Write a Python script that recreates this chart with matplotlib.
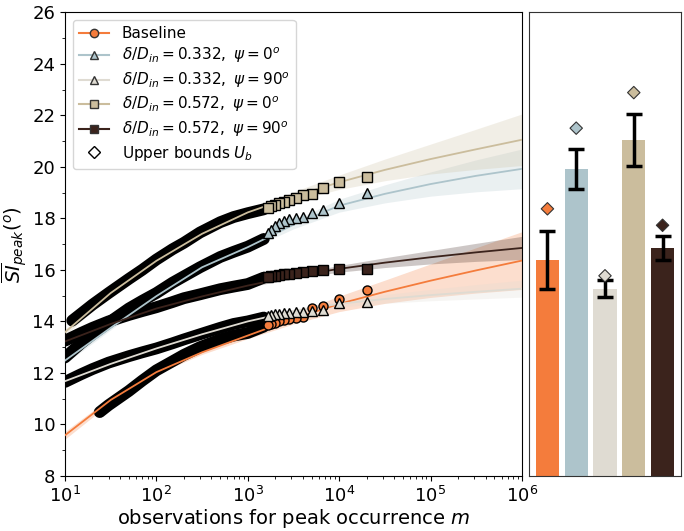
import matplotlib.pyplot as plt
from matplotlib.lines import Line2D
from matplotlib.ticker import MultipleLocator
import numpy as np

# --- values ---

# smooth fitted curves, sampled every half decade from 10 to 1e6
fit_m = [10, 31.6, 100, 316, 1000, 3162, 10000, 31623, 100000, 316228, 1000000]
baseline_fit = [9.58, 10.95, 12.03, 12.8, 13.45, 14.1, 14.68, 15.15, 15.58, 15.98, 16.36]
d332_p0_fit = [12.48, 13.75, 14.98, 16.1, 16.88, 17.75, 18.49, 18.95, 19.33, 19.65, 19.92]
d332_p90_fit = [11.68, 12.35, 12.95, 13.5, 14.0, 14.4, 14.68, 14.87, 15.02, 15.15, 15.27]
d572_p0_fit = [13.58, 15.1, 16.35, 17.4, 18.23, 18.85, 19.4, 19.88, 20.3, 20.68, 21.05]
d572_p90_fit = [13.22, 13.9, 14.5, 14.97, 15.39, 15.75, 16.04, 16.28, 16.49, 16.68, 16.85]

# half width of the shaded band around each fit
baseline_band = [0.15, 0.1, 0.07, 0.08, 0.12, 0.2, 0.3, 0.45, 0.65, 0.88, 1.12]
d332_p0_band = [0.12, 0.08, 0.06, 0.07, 0.1, 0.16, 0.25, 0.35, 0.47, 0.62, 0.77]
d332_p90_band = [0.08, 0.05, 0.04, 0.04, 0.06, 0.08, 0.12, 0.17, 0.22, 0.28, 0.33]
d572_p0_band = [0.12, 0.08, 0.06, 0.07, 0.1, 0.18, 0.28, 0.42, 0.58, 0.78, 1.0]
d572_p90_band = [0.08, 0.05, 0.04, 0.05, 0.06, 0.09, 0.13, 0.19, 0.26, 0.35, 0.45]

# observed points, dense part (marker edges merge into a black band)
baseline_dense_m = [24, 30, 50, 70, 100, 150, 200, 300, 500, 700, 1000, 1500]
baseline_dense = [10.48, 10.75, 11.3, 11.7, 12.1, 12.45, 12.7, 13.0, 13.3, 13.45, 13.55, 13.8]
d332_p0_dense_m = [10, 15, 20, 30, 50, 70, 100, 150, 200, 300, 500, 700, 1000, 1500]
d332_p0_dense = [12.6, 13.15, 13.5, 13.95, 14.5, 14.8, 15.1, 15.5, 15.75, 16.1, 16.5, 16.7, 16.9, 17.2]
d332_p90_dense_m = [10, 15, 20, 30, 50, 70, 100, 150, 200, 300, 500, 700, 1000, 1500]
d332_p90_dense = [11.65, 11.95, 12.15, 12.4, 12.65, 12.8, 12.95, 13.15, 13.3, 13.5, 13.75, 13.9, 14.0, 14.15]
d572_p0_dense_m = [12, 15, 20, 30, 50, 70, 100, 150, 200, 300, 500, 700, 1000, 1500]
d572_p0_dense = [14.03, 14.3, 14.65, 15.1, 15.65, 16.0, 16.4, 16.8, 17.05, 17.45, 17.85, 18.05, 18.2, 18.35]
d572_p90_dense_m = [10, 15, 20, 30, 50, 70, 100, 150, 200, 300, 500, 700, 1000, 1500]
d572_p90_dense = [13.25, 13.55, 13.75, 14.0, 14.25, 14.4, 14.55, 14.75, 14.9, 15.05, 15.25, 15.35, 15.45, 15.7]

# observed points, sparse part (individual markers)
sparse_m = [20000, 10000, 6667, 5000, 4000, 3333, 2857, 2500, 2222, 2000, 1818, 1667]
baseline_sparse = [15.2, 14.85, 14.58, 14.52, 14.19, 14.15, 14.1, 14.05, 14.0, 13.95, 13.9, 13.85]
d332_p0_sparse = [18.97, 18.58, 18.32, 18.2, 18.05, 18.0, 17.97, 17.9, 17.8, 17.7, 17.55, 17.45]
d332_p90_sparse = [14.74, 14.7, 14.45, 14.4, 14.35, 14.35, 14.33, 14.32, 14.3, 14.28, 14.25, 14.22]
d572_p0_sparse = [19.6, 19.4, 19.16, 18.95, 18.9, 18.78, 18.72, 18.64, 18.58, 18.52, 18.46, 18.42]
d572_p90_sparse = [16.04, 16.04, 15.98, 15.97, 15.9, 15.88, 15.85, 15.83, 15.8, 15.78, 15.75, 15.72]

# right panel: value at m = 1e6, its error and the upper bound U_b
bar_values = [16.37, 19.92, 15.27, 21.05, 16.85]
bar_errors = [1.12, 0.77, 0.33, 1.0, 0.45]
upper_bounds = [18.37, 21.5, 15.77, 22.88, 17.73]

labels = ['Baseline',
          r'$\delta/D_{in}=0.332,\ \psi=0^o$',
          r'$\delta/D_{in}=0.332,\ \psi=90^o$',
          r'$\delta/D_{in}=0.572,\ \psi=0^o$',
          r'$\delta/D_{in}=0.572,\ \psi=90^o$']
colors = ['#f47c3c', '#adc4cb', '#dfdbd2', '#cbbd9d', '#3b231c']
markers = ['o', '^', '^', 's', 's']

series = [
    (baseline_fit, baseline_band, baseline_dense_m, baseline_dense, baseline_sparse),
    (d332_p0_fit, d332_p0_band, d332_p0_dense_m, d332_p0_dense, d332_p0_sparse),
    (d332_p90_fit, d332_p90_band, d332_p90_dense_m, d332_p90_dense, d332_p90_sparse),
    (d572_p0_fit, d572_p0_band, d572_p0_dense_m, d572_p0_dense, d572_p0_sparse),
    (d572_p90_fit, d572_p90_band, d572_p90_dense_m, d572_p90_dense, d572_p90_sparse),
]

fig = plt.figure(figsize=(6.84, 5.31), dpi=100)
ax = fig.add_axes([0.095, 0.1036, 0.668, 0.8734])
axb = fig.add_axes([0.7734, 0.1036, 0.2222, 0.8734], sharey=ax)

# main panel
for i, (fit, band, dm, dv, sv) in enumerate(series):
    fit = np.array(fit)
    band = np.array(band)
    ax.fill_between(fit_m, fit - band, fit + band, color=colors[i], alpha=0.25,
                    linewidth=0, zorder=1)
    ax.plot(dm, dv, color='k', linewidth=8.5, solid_capstyle='round', zorder=2)
    ax.plot(fit_m, fit, color=colors[i], linewidth=1.3, zorder=3)
    ax.plot(sparse_m, sv, linestyle='none', marker=markers[i], markersize=6.5,
            markerfacecolor=colors[i], markeredgecolor='k', markeredgewidth=1.0,
            zorder=4)

ax.set_xscale('log')
ax.set_xlim(10, 1e6)
ax.set_ylim(8, 26)
ax.set_yticks(range(8, 27, 2))
ax.yaxis.set_minor_locator(MultipleLocator(1))
ax.tick_params(labelsize=13)
ax.set_xlabel('observations for peak occurrence $m$', fontsize=14, labelpad=1)
ax.set_ylabel(r'$\overline{SI}_{peak}(^o)$', fontsize=14, labelpad=2)

handles = []
for i in range(5):
    handles.append(Line2D([], [], color=colors[i], marker=markers[i], markersize=6,
                          markerfacecolor=colors[i], markeredgecolor='#333333',
                          linewidth=1.5, label=labels[i]))
handles.append(Line2D([], [], linestyle='none', marker='D', markersize=6,
                      markerfacecolor='white', markeredgecolor='k',
                      label='Upper bounds $U_b$'))
ax.legend(handles=handles, loc='upper left', fontsize=11, labelspacing=0.32)

# right panel
pos = np.arange(len(bar_values))
axb.bar(pos, bar_values, width=0.8, color=colors, yerr=bar_errors, capsize=6,
        error_kw=dict(elinewidth=2.5, capthick=2.5, ecolor='k'))
axb.scatter(pos, upper_bounds, marker='D', s=40, c=colors, edgecolors='#333333',
            linewidths=0.8, zorder=5)
axb.set_xticks([])
axb.tick_params(which='both', left=False, labelleft=False)
for sp in axb.spines.values():
    sp.set_color('#333333')

plt.savefig('out.png', dpi=100)
